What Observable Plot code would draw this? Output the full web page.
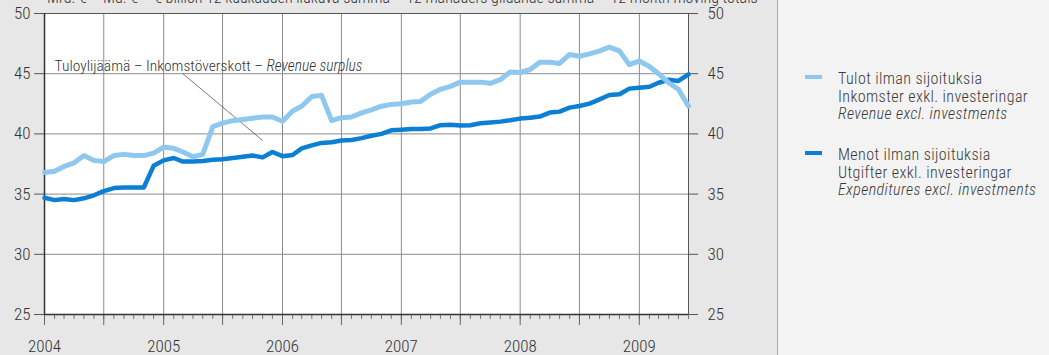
<!DOCTYPE html>
<html>
<head>
<meta charset="utf-8">
<script src="https://cdn.jsdelivr.net/npm/d3@7"></script>
<script src="https://cdn.jsdelivr.net/npm/@observablehq/plot@0.6"></script>
<style>
  html, body { margin: 0; padding: 0; }
  body { width: 1049px; height: 355px; overflow: hidden; background: #e7e7e7; font-family: "Roboto Condensed", "Liberation Sans Narrow", "DejaVu Sans Condensed", Roboto, sans-serif; font-stretch: condensed; }
  #wrap { position: relative; width: 1049px; height: 355px; }
  #chart { position: absolute; left: 0; top: 0; }
  #title { position: absolute; left: 47px; top: -7.5px; font-size: 16px; line-height: 10px; font-weight: 300; color: #333; white-space: nowrap; }
  #panel { position: absolute; left: 777px; top: 0; width: 272px; height: 355px; background: #f3f3f3; border-left: 1px solid #a8a8a8; }
  .leg { position: absolute; left: 838px; font-size: 16px; letter-spacing: 0.4px; font-weight: 300; line-height: 17.5px; color: #3a3a3a; white-space: nowrap; }
  .sw { position: absolute; left: 805px; width: 17px; height: 4px; }
</style>
</head>
<body>
<div id="wrap">
  <div id="panel"></div>
  <div id="chart"></div>
  <div id="title"></div>
  <div id="legend"></div>
</div>
<script>
// ---- data (monthly, Jan 2004 .. Jun 2009), € billion, 12-month moving totals
const startYear = 2004;
const revenue = [
  36.8, 36.9, 37.3, 37.6, 38.2, 37.8, 37.7, 38.2, 38.3, 38.2, 38.2, 38.4,
  38.9, 38.8, 38.5, 38.1, 38.3, 40.6, 40.9, 41.1, 41.2, 41.3, 41.4, 41.4,
  41.05, 41.9, 42.3, 43.1, 43.2, 41.1, 41.35, 41.4, 41.75, 42.0, 42.3, 42.45,
  42.5, 42.65, 42.7, 43.3, 43.7, 43.95, 44.3, 44.3, 44.3, 44.2, 44.5, 45.15,
  45.1, 45.35, 45.95, 45.95, 45.85, 46.6, 46.45, 46.65, 46.9, 47.2, 46.9, 45.75,
  46.05, 45.6, 45.0, 44.25, 43.7, 42.3
];
const expenditure = [
  34.7, 34.5, 34.6, 34.5, 34.65, 34.9, 35.25, 35.5, 35.55, 35.55, 35.55, 37.35,
  37.8, 38.0, 37.7, 37.7, 37.75, 37.85, 37.9, 38.0, 38.1, 38.2, 38.05, 38.5,
  38.15, 38.25, 38.8, 39.05, 39.25, 39.3, 39.45, 39.5, 39.65, 39.85, 40.0, 40.3,
  40.35, 40.4, 40.4, 40.45, 40.72, 40.75, 40.7, 40.72, 40.88, 40.94, 41.02, 41.13,
  41.27, 41.35, 41.44, 41.77, 41.85, 42.18, 42.32, 42.51, 42.87, 43.23, 43.29, 43.76,
  43.84, 43.92, 44.25, 44.5, 44.4, 44.95
];
const yTicks = [25, 30, 35, 40, 45, 50];
const yearLabels = [2004, 2005, 2006, 2007, 2008, 2009];
const seriesNames = [
  ["Tulot ilman sijoituksia", "Inkomster exkl. investeringar", "Revenue excl. investments"],
  ["Menot ilman sijoituksia", "Utgifter exkl. investeringar", "Expenditures excl. investments"]
];
const seriesColors = ["#8ec8ef", "#0b7fd3"];
const titleText = "Mrd. € – Md. € – € billion   12 kuukauden liukuva summa – 12 månaders glidande summa – 12 month moving totals";
const annotationPlain = "Tuloylijäämä – Inkomstöverskott – ";
const annotationItalic = "Revenue surplus";
// annotation anchor [year, month, value] and leader line ends
const annotationAt = [2004, 1, 45.6];
const leaderFrom = [2005, 2.7, 45.0];
const leaderTo = [2005, 10.7, 39.45];

// ---- build
const d = (y, m) => new Date(Date.UTC(y, m, 1));
const rows = revenue.map((v, i) => ({date: d(startYear, i), rev: v, exp: expenditure[i]}));
const lastDate = d(startYear, revenue.length - 1);
const months = d3.utcMonths(d(2004, 0), d(2009, 6));
const halfYears = months.filter(t => t.getUTCMonth() % 6 === 0);
const years = yearLabels.map(y => d(y, 0));

const plot = Plot.plot({
  width: 777,
  height: 355,
  marginLeft: 44,
  marginRight: 89,
  marginTop: 13,
  marginBottom: 41,
  style: {background: "transparent", fontFamily: "inherit", color: "#333"},
  x: {type: "utc", domain: [d(2004, 0), lastDate]},
  y: {domain: [25, 50]},
  marks: [
    Plot.frame({fill: "white", stroke: null}),
    Plot.ruleY(yTicks, {stroke: "#8c8c8c", strokeWidth: 1}),
    Plot.ruleX(halfYears, {stroke: "#8c8c8c", strokeWidth: 1}),
    Plot.axisX(months, {anchor: "bottom", tickSize: 5, tickFormat: () => "", stroke: "#777", strokeWidth: 1}),
    Plot.axisX(halfYears, {anchor: "bottom", tickSize: 11, tickFormat: () => "", stroke: "#666", strokeWidth: 1}),
    Plot.axisX(years, {anchor: "bottom", tickSize: 0, tickPadding: 25, tickFormat: "%Y", fontSize: 17, fontWeight: 300, fill: "#333"}),
    Plot.axisY(yTicks, {anchor: "left", tickSize: 10, tickPadding: 4, fontSize: 17, fontWeight: 300, stroke: "#555"}),
    Plot.axisY(yTicks, {anchor: "right", tickSize: 9, tickPadding: 10, fontSize: 17, fontWeight: 300, stroke: "#555"}),
    Plot.frame({stroke: "#555", strokeWidth: 1}),
    Plot.ruleX([d(2004, 0)], {stroke: "#333", strokeWidth: 1.5}),
    Plot.ruleY([25], {stroke: "#333", strokeWidth: 1.5}),
    Plot.link([0], {
      x1: () => d(leaderFrom[0], leaderFrom[1]), y1: () => leaderFrom[2],
      x2: () => d(leaderTo[0], leaderTo[1]), y2: () => leaderTo[2],
      stroke: "#555", strokeWidth: 0.8
    }),
    Plot.text([annotationPlain], {
      x: () => d(annotationAt[0], annotationAt[1]), y: () => annotationAt[2],
      text: t => t, textAnchor: "start", fontSize: 15.5, fontWeight: 300, fill: "#333", className: "annot"
    }),
    Plot.line(rows, {x: "date", y: "exp", stroke: seriesColors[1], strokeWidth: 4.5, strokeLinejoin: "round"}),
    Plot.line(rows, {x: "date", y: "rev", stroke: seriesColors[0], strokeWidth: 5, strokeLinejoin: "round"})
  ]
});
document.getElementById("chart").appendChild(plot);

// mixed-style annotation
const at = plot.querySelector(".annot text");
if (at) {
  at.textContent = annotationPlain;
  const ts = document.createElementNS("http://www.w3.org/2000/svg", "tspan");
  ts.setAttribute("font-style", "italic");
  ts.textContent = annotationItalic;
  at.appendChild(ts);
}

document.getElementById("title").textContent = titleText;

// legend
const legend = document.getElementById("legend");
const legTops = [70, 146];
seriesNames.forEach((lines, k) => {
  const sw = document.createElement("div");
  sw.className = "sw";
  sw.style.top = (legTops[k] + 5) + "px";
  sw.style.background = seriesColors[k];
  legend.appendChild(sw);
  const tx = document.createElement("div");
  tx.className = "leg";
  tx.style.top = legTops[k] + "px";
  tx.innerHTML = lines.map((l, j) => j === 2 ? `<i>${l}</i>` : l).join("<br>");
  legend.appendChild(tx);
});
</script>
</body>
</html>
